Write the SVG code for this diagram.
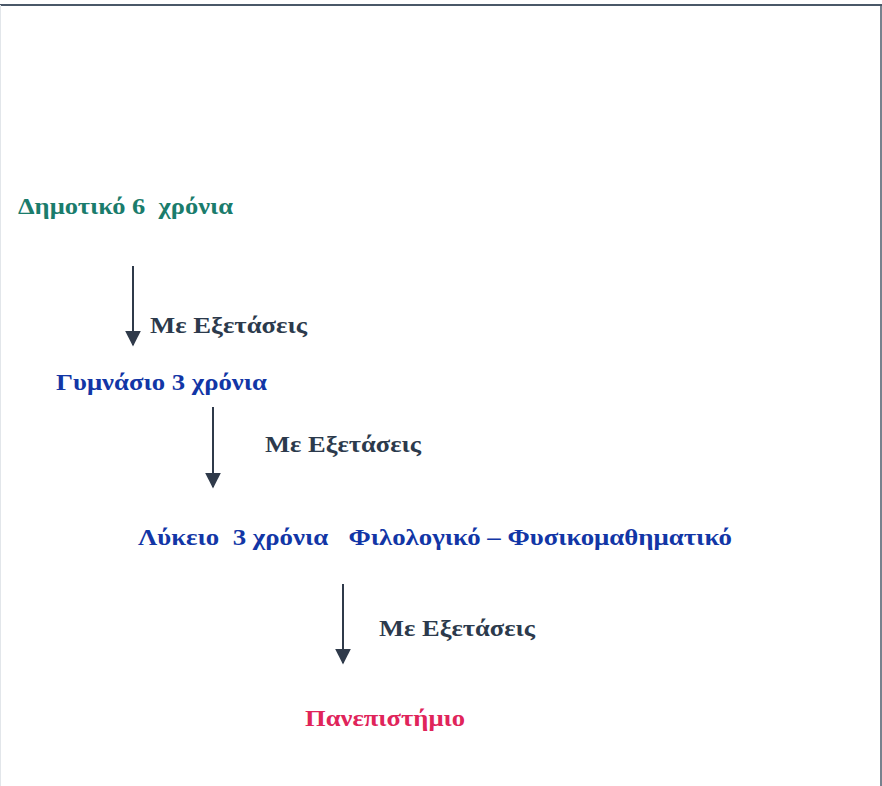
<svg xmlns="http://www.w3.org/2000/svg" width="882" height="786" viewBox="0 0 882 786">
<style>
text{font-family:"Liberation Serif","Times New Roman",serif;font-weight:bold;font-size:23px;white-space:pre}
.exam{fill:#2c3a4c}
.conn line{stroke:#2f3a4a;stroke-width:2}
</style>
<defs>
<marker id="ah" viewBox="0 0 10 10" refX="9" refY="5" markerWidth="8" markerHeight="8" markerUnits="strokeWidth" orient="auto">
<path d="M0,0 L10,5 L0,10 z" fill="#2f3a4a"/>
</marker>
</defs>
<rect x="0" y="0" width="882" height="786" fill="#ffffff"/>
<line x1="0" y1="5" x2="882" y2="5" stroke="#4a5868" stroke-width="2"/>
<line x1="881" y1="5" x2="881" y2="786" stroke="#4a5868" stroke-width="1.5"/>
<line x1="0.5" y1="5" x2="0.5" y2="786" stroke="#e2e6ea" stroke-width="1"/>
<g id="dimotiko"><text x="18" y="214" fill="#1a7c6c" textLength="215" lengthAdjust="spacingAndGlyphs" xml:space="preserve">Δημοτικό 6  χρόνια</text></g>
<g id="gymnasio"><text x="56" y="390" fill="#1236a6" textLength="211" lengthAdjust="spacingAndGlyphs">Γυμνάσιο 3 χρόνια</text></g>
<g id="lykeio"><text x="138" y="545" fill="#1236a6" textLength="594" lengthAdjust="spacingAndGlyphs" xml:space="preserve">Λύκειο  3 χρόνια   Φιλολογικό – Φυσικομαθηματικό</text></g>
<g id="panepistimio"><text x="305" y="726" fill="#e0245a" textLength="160" lengthAdjust="spacingAndGlyphs">Πανεπιστήμιο</text></g>
<g id="connectors" class="conn">
<line x1="133" y1="266" x2="133" y2="345" marker-end="url(#ah)"/>
<line x1="213" y1="407" x2="213" y2="487" marker-end="url(#ah)"/>
<line x1="343" y1="584" x2="343" y2="663" marker-end="url(#ah)"/>
<text class="exam" x="150" y="333" textLength="157" lengthAdjust="spacingAndGlyphs">Με Εξετάσεις</text>
<text class="exam" x="265" y="452" textLength="156" lengthAdjust="spacingAndGlyphs">Με Εξετάσεις</text>
<text class="exam" x="379" y="636" textLength="156" lengthAdjust="spacingAndGlyphs">Με Εξετάσεις</text>
</g>
</svg>
